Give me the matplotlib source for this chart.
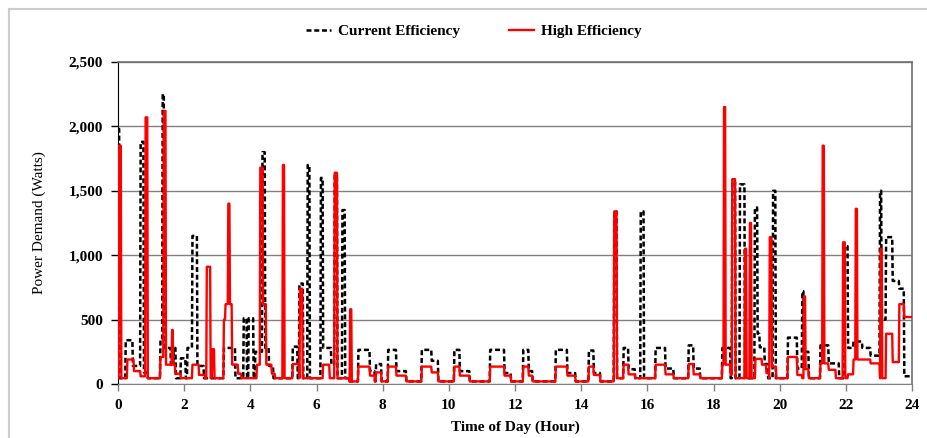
import numpy as np
import matplotlib
matplotlib.use("Agg")
import matplotlib.pyplot as plt
from matplotlib.lines import Line2D
from matplotlib.ticker import FuncFormatter

plt.rcParams['font.family'] = ['Liberation Serif', 'DejaVu Serif']

# Power demand as (start hour, end hour, watts) blocks,
# later blocks overwrite earlier ones; anything not covered sits at the baseline.
baseline_w = 45
midday_low = (7.0, 15.0, 20)

current_events = [
    midday_low,
    (0.00, 0.05, 1980), (0.22, 0.45, 340), (0.45, 0.68, 140), (0.68, 0.77, 1880),
    (0.77, 0.90, 90), (1.28, 1.34, 350), (1.34, 1.40, 2250), (1.40, 1.60, 280),
    (1.60, 1.68, 150), (1.68, 1.75, 280), (1.90, 2.05, 200), (2.10, 2.25, 280),
    (2.25, 2.40, 1150), (2.40, 2.60, 140), (3.20, 3.55, 280), (3.80, 3.90, 510),
    (3.95, 4.10, 510), (4.15, 4.36, 250), (4.36, 4.44, 1800), (4.44, 4.56, 280),
    (4.56, 4.70, 140), (5.27, 5.42, 290), (5.47, 5.60, 780), (5.72, 5.80, 1700),
    (6.12, 6.20, 1600), (6.20, 6.45, 280), (6.45, 6.55, 150), (6.55, 6.63, 1620),
    (6.78, 6.86, 1350),
    (7.26, 7.61, 265), (7.61, 7.76, 100), (7.80, 7.96, 155), (8.16, 8.41, 265),
    (8.41, 8.71, 100), (9.17, 9.47, 265), (9.47, 9.67, 180), (10.16, 10.33, 265),
    (10.33, 10.62, 100), (11.24, 11.68, 265), (11.68, 11.88, 85), (12.24, 12.41, 265),
    (12.41, 12.52, 100), (13.22, 13.57, 265), (13.57, 13.82, 85), (14.23, 14.38, 260),
    (14.38, 14.58, 85), (15.00, 15.08, 1340), (15.27, 15.42, 280), (15.42, 15.62, 115),
    (15.80, 15.90, 1340), (16.25, 16.55, 280), (16.55, 16.80, 120), (17.25, 17.40, 300),
    (17.40, 17.60, 120), (18.26, 18.51, 280), (18.56, 18.66, 1570), (18.80, 18.94, 1550),
    (19.24, 19.32, 1370), (19.32, 19.40, 390), (19.40, 19.55, 285), (19.55, 19.65, 155),
    (19.80, 19.87, 1500), (20.25, 20.52, 360), (20.52, 20.67, 120), (20.67, 20.72, 720),
    (20.72, 20.88, 250), (21.23, 21.48, 300), (21.48, 21.80, 160), (21.96, 22.06, 1070),
    (22.06, 22.23, 280), (22.23, 22.50, 330), (22.50, 22.75, 280), (22.75, 23.02, 220),
    (23.02, 23.07, 1500), (23.07, 23.21, 500), (23.21, 23.41, 1140), (23.41, 23.61, 800),
    (23.61, 23.76, 740), (23.76, 24.01, 60),
]

high_events = [
    midday_low,
    (0.02, 0.10, 1850), (0.28, 0.48, 190), (0.48, 0.68, 100), (0.68, 0.83, 60),
    (0.83, 0.90, 2070), (1.28, 1.37, 210), (1.37, 1.44, 2120), (1.44, 1.62, 150),
    (1.62, 1.66, 420), (1.66, 1.72, 150), (1.72, 1.90, 80), (2.24, 2.45, 150),
    (2.45, 2.62, 70), (2.68, 2.80, 910), (2.85, 2.91, 270), (3.20, 3.25, 500),
    (3.25, 3.33, 620), (3.33, 3.37, 1400), (3.37, 3.45, 620), (3.45, 3.62, 150),
    (3.62, 3.72, 80), (4.20, 4.30, 150), (4.30, 4.38, 1680), (4.38, 4.48, 620),
    (4.48, 4.64, 150), (4.64, 4.74, 80), (4.98, 5.03, 1700), (5.27, 5.47, 155),
    (5.50, 5.58, 740), (6.20, 6.40, 150), (6.55, 6.63, 1640), (7.01, 7.06, 580),
    (7.26, 7.61, 135), (7.61, 7.76, 65), (7.80, 7.96, 90), (8.16, 8.41, 135),
    (8.41, 8.71, 65), (9.17, 9.47, 135), (9.47, 9.67, 90), (10.16, 10.33, 135),
    (10.33, 10.62, 65), (11.24, 11.68, 135), (11.68, 11.88, 65), (12.24, 12.41, 135),
    (12.41, 12.52, 65), (13.22, 13.57, 135), (13.57, 13.82, 65), (14.23, 14.38, 135),
    (14.38, 14.58, 70), (15.00, 15.08, 1340), (15.27, 15.42, 150), (15.42, 15.62, 75),
    (16.25, 16.55, 150), (16.55, 16.80, 75), (17.25, 17.40, 155), (17.40, 17.60, 75),
    (18.26, 18.51, 150), (18.31, 18.36, 2150), (18.51, 18.56, 70), (18.56, 18.66, 1590),
    (18.95, 19.00, 1050), (19.10, 19.15, 1250), (19.26, 19.46, 195), (19.46, 19.60, 150),
    (19.60, 19.68, 85), (19.70, 19.76, 1140), (19.76, 19.89, 135), (20.25, 20.52, 210),
    (20.52, 20.67, 70), (20.73, 20.78, 680), (20.78, 20.88, 115), (21.23, 21.48, 160),
    (21.30, 21.35, 1850), (21.48, 21.70, 110), (21.91, 21.98, 1100), (22.06, 22.23, 75),
    (22.23, 22.75, 190), (22.30, 22.35, 1360), (22.75, 23.02, 160), (23.04, 23.09, 1050),
    (23.21, 23.41, 390), (23.41, 23.61, 170), (23.61, 23.76, 620), (23.76, 24.01, 520),
]

x_ticks = [0, 2, 4, 6, 8, 10, 12, 14, 16, 18, 20, 22, 24]
y_ticks = [0, 500, 1000, 1500, 2000, 2500]

# one-minute resolution over the day
hours = np.arange(0, 24 * 60 + 1) / 60.0


def build_profile(events, base):
    watts = np.full(hours.shape, float(base))
    for start, end, w in events:
        watts[(hours >= start - 1e-9) & (hours < end - 1e-9)] = w
    return watts


current = build_profile(current_events, baseline_w)
high = build_profile(high_events, baseline_w)

fig = plt.figure(figsize=(9.28, 4.38), dpi=100)
ax = fig.add_axes([0.1272, 0.1233, 0.8556, 0.7352])

ax.plot(hours, current, color='black', lw=1.8, linestyle=(0, (2.0, 1.1)),
        label='Current Efficiency', zorder=3)
ax.plot(hours, high, color='#ff0000', lw=1.7, label='High Efficiency', zorder=4)

ax.set_xlim(0, 24)
ax.set_ylim(0, 2500)
ax.set_xticks(x_ticks)
ax.set_yticks(y_ticks)
ax.yaxis.set_major_formatter(FuncFormatter(lambda v, p: f"{int(v):,}"))
ax.grid(axis='y', color='#808080', lw=1.0, zorder=0)
ax.set_axisbelow(True)

for side in ['top', 'right']:
    ax.spines[side].set_color('#707070')
    ax.spines[side].set_linewidth(1.2)
ax.spines['left'].set_color('black')
ax.spines['bottom'].set_color('#808080')

ax.tick_params(axis='both', direction='out', length=5, width=1,
               labelsize=11, pad=6)
ax.tick_params(axis='x', colors='#808080', labelcolor='black')
for lbl in ax.get_xticklabels() + ax.get_yticklabels():
    lbl.set_fontweight('bold')

ax.set_xlabel('Time of Day (Hour)', fontsize=11, fontweight='bold', labelpad=6)
ax.set_ylabel('Power Demand (Watts)', fontsize=11, labelpad=16)

fig.legend(loc='center', bbox_to_anchor=(0.511, 0.929), ncol=2, frameon=False,
           handlelength=1.6, columnspacing=3.2, handletextpad=0.5,
           prop={'size': 11, 'weight': 'bold'})

# light chart-area border on the top and left edges
fig.add_artist(Line2D([9 / 928, 9 / 928], [0, 1 - 9 / 438], color='#cccccc', lw=1.5))
fig.add_artist(Line2D([9 / 928, 1], [1 - 9 / 438, 1 - 9 / 438], color='#cccccc', lw=1.5))

fig.savefig('out.png', dpi=100)
